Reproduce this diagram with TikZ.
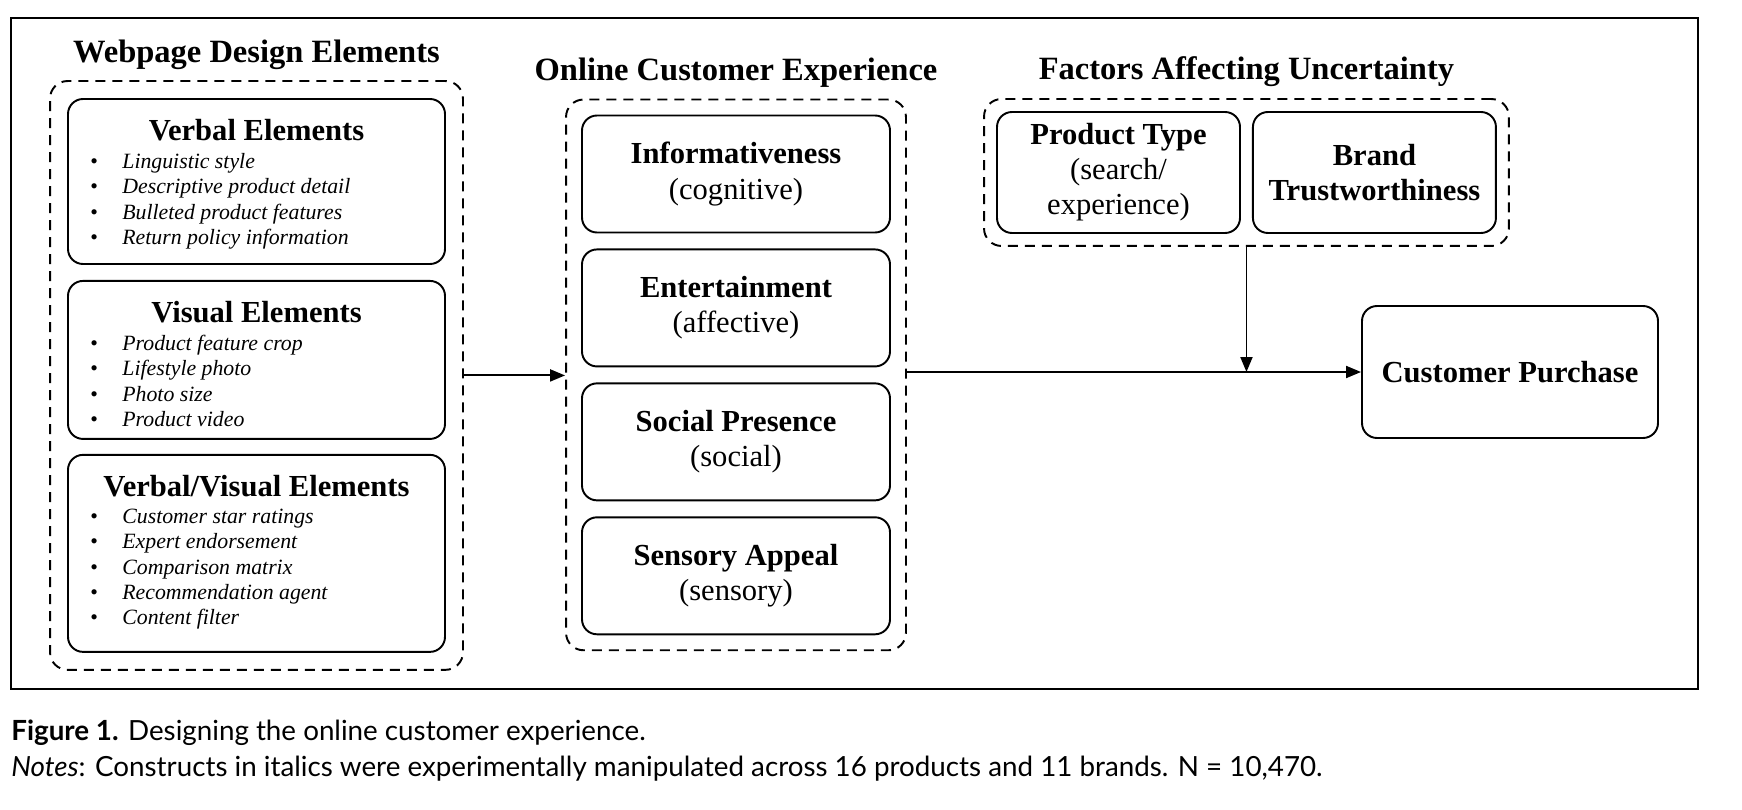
\documentclass[tikz,border=0pt]{standalone}
\usepackage{fontspec}
\setmainfont{Liberation Serif}
\newfontfamily\capfont{Lato}
\usetikzlibrary{arrows.meta, positioning, fit}

\newcommand{\itembul}{\makebox[0.64cm][l]{\upshape\textbullet}}

\begin{document}
\begin{tikzpicture}[
    every node/.style={font=\fontsize{17.4}{20}\selectfont},
    grouptitle/.style={font=\fontsize{18.5}{22}\selectfont\bfseries, inner sep=0pt},
    elbox/.style={rectangle, draw, line width=1.1pt, rounded corners=0.3cm, align=center},
    boxtitle/.style={font=\fontsize{17.4}{20}\selectfont\bfseries, inner sep=0pt},
    itemlist/.style={font=\fontsize{12.4}{14.4}\selectfont\itshape, align=left, inner sep=0pt},
    dashgroup/.style={draw, line width=1.1pt, dash pattern=on 0.2cm off 0.14cm, rounded corners=0.35cm},
    arrow/.style={-{Triangle[length=0.3cm, width=0.24cm]}, line width=1.1pt},
    caption/.style={font=\capfont\fontsize{15.8}{19}\selectfont, anchor=west, inner sep=0pt}
]
\useasboundingbox (0,0) rectangle (34.84,-16.2);

% outer frame
\draw[line width=0.8pt] (0.22,-0.36) rectangle (33.96,-13.78);

% ============ WEBPAGE DESIGN ELEMENTS ============
\node[elbox, minimum width=7.54cm, minimum height=3.3cm] (verbal) at (5.13,-3.63) {};
\node[boxtitle, below=0.42cm of verbal.north] (verbal_t) {Verbal Elements};
\node[itemlist, below right=1.1cm and 0.46cm of verbal.north west] (verbal_l)
    {\itembul Linguistic style\\ \itembul Descriptive product detail\\
     \itembul Bulleted product features\\ \itembul Return policy information};

\node[elbox, minimum width=7.54cm, minimum height=3.16cm, below=0.3cm of verbal] (visual) {};
\node[boxtitle, below=0.42cm of visual.north] (visual_t) {Visual Elements};
\node[itemlist, below right=1.1cm and 0.46cm of visual.north west] (visual_l)
    {\itembul Product feature crop\\ \itembul Lifestyle photo\\
     \itembul Photo size\\ \itembul Product video};

\node[elbox, minimum width=7.54cm, minimum height=3.94cm, below=0.28cm of visual] (verbvis) {};
\node[boxtitle, below=0.42cm of verbvis.north] (verbvis_t) {Verbal/Visual Elements};
\node[itemlist, below right=1.1cm and 0.46cm of verbvis.north west] (verbvis_l)
    {\itembul Customer star ratings\\ \itembul Expert endorsement\\
     \itembul Comparison matrix\\ \itembul Recommendation agent\\ \itembul Content filter};

\node[dashgroup, fit=(verbal) (verbvis), inner sep=0.34cm] (webgrp) {};
\node[grouptitle, above=0.2cm of webgrp.north] (webgrp_t) {Webpage Design Elements};

% ============ ONLINE CUSTOMER EXPERIENCE ============
\node[elbox, minimum width=6.16cm, minimum height=2.34cm] (inform) at (14.72,-3.48)
    {\textbf{Informativeness}\\(cognitive)};
\node[elbox, minimum width=6.16cm, minimum height=2.34cm, below=0.3cm of inform] (entert)
    {\textbf{Entertainment}\\(affective)};
\node[elbox, minimum width=6.16cm, minimum height=2.34cm, below=0.3cm of entert] (social)
    {\textbf{Social Presence}\\(social)};
\node[elbox, minimum width=6.16cm, minimum height=2.34cm, below=0.3cm of social] (sensory)
    {\textbf{Sensory Appeal}\\(sensory)};

\node[dashgroup, fit=(inform) (sensory), inner sep=0.3cm] (ocegrp) {};
\node[grouptitle, above=0.22cm of ocegrp.north] (ocegrp_t) {Online Customer Experience};

% ============ FACTORS AFFECTING UNCERTAINTY ============
\node[elbox, minimum width=4.86cm, minimum height=2.42cm] (ptype) at (22.37,-3.45)
    {\textbf{Product Type}\\(search/\\experience)};
\node[elbox, minimum width=4.86cm, minimum height=2.42cm, right=0.22cm of ptype] (brand)
    {\textbf{Brand}\\\textbf{Trustworthiness}};

\node[dashgroup, fit=(ptype) (brand), inner sep=0.24cm] (ufgrp) {};
\node[grouptitle, above=0.22cm of ufgrp.north] (ufgrp_t) {Factors Affecting Uncertainty};

% ============ OUTCOME ============
\node[elbox, minimum width=5.92cm, minimum height=2.64cm] (buy) at (30.2,-7.44)
    {\textbf{Customer Purchase}};

% Arrows
\draw[arrow] (webgrp.east) -- (webgrp.east -| ocegrp.west);
\draw[arrow] (ocegrp.east |- buy.west) -- (buy.west);
\draw[arrow] (ufgrp.south) -- (ufgrp.south |- buy.west);

% ============ CAPTION ============
\node[caption] (cap1) at (0.22,-14.66) {\textbf{Figure 1.} Designing the online customer experience.};
\node[caption] (cap2) at (0.22,-15.38) {\textit{Notes}: Constructs in italics were experimentally manipulated across 16 products and 11 brands. N = 10,470.};

\end{tikzpicture}
\end{document}
